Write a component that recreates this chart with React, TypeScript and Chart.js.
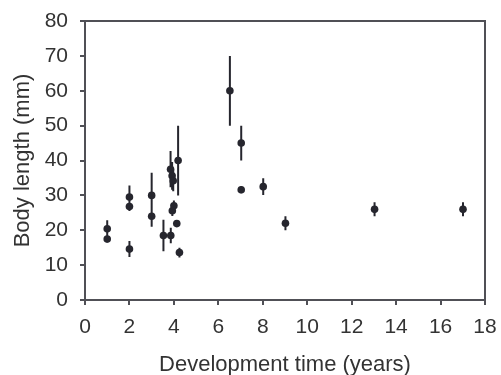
import React, { useEffect, useRef } from "react";
import { Chart, registerables } from "chart.js";

Chart.register(...registerables);

const devTime = [1, 1, 2, 2, 2, 3, 3, 3.53, 3.86, 3.85, 3.92, 3.97, 4.19, 3.93, 4.0, 4.13, 4.25, 6.52, 7.03, 7.03, 8.02, 9.02, 13.03, 17.01];
const bodyLength = [20.4, 17.5, 29.5, 26.8, 14.6, 30, 24, 18.5, 18.5, 37.5, 35.6, 34.2, 40, 25.6, 27, 21.9, 13.6, 60, 45, 31.6, 32.5, 22, 26, 26];
const errorSize = [2.5, 1, 3.3, 1.3, 2.3, 6.5, 3, 4.5, 2.2, 5.2, 4, 3, 10, 1.5, 1.5, 1, 1.4, 10, 5, 1, 2.4, 2, 2, 2];

const xTicks = [0, 2, 4, 6, 8, 10, 12, 14, 16, 18];
const yTicks = [0, 10, 20, 30, 40, 50, 60, 70, 80];

const axisColor = "#505056";
const markColor = "#26262e";
const textColor = "#333333";
const fontFamily = "'Liberation Sans', Arial, sans-serif";

const errorBarPlugin = {
  id: "errorBars",
  beforeDatasetsDraw(chart: any) {
    const { ctx, scales } = chart;
    ctx.save();
    ctx.strokeStyle = markColor;
    ctx.lineWidth = 2;
    ctx.beginPath();
    devTime.forEach((x, i) => {
      const px = scales.x.getPixelForValue(x);
      const y1 = scales.y.getPixelForValue(bodyLength[i] - errorSize[i]);
      const y2 = scales.y.getPixelForValue(bodyLength[i] + errorSize[i]);
      ctx.moveTo(px, y1);
      ctx.lineTo(px, y2);
    });
    ctx.stroke();
    ctx.restore();
  },
};

const boxPlugin = {
  id: "boxFrame",
  afterDraw(chart: any) {
    const { ctx, chartArea } = chart;
    ctx.save();
    ctx.strokeStyle = axisColor;
    ctx.lineWidth = 2;
    ctx.beginPath();
    ctx.moveTo(chartArea.left, chartArea.top);
    ctx.lineTo(chartArea.right, chartArea.top);
    ctx.lineTo(chartArea.right, chartArea.bottom);
    ctx.stroke();
    ctx.restore();
  },
};

export default function App() {
  const ref = useRef<HTMLCanvasElement | null>(null);

  useEffect(() => {
    if (!ref.current) return;
    const chart = new Chart(ref.current, {
      type: "scatter",
      data: {
        datasets: [
          {
            data: devTime.map((x, i) => ({ x, y: bodyLength[i] })),
            backgroundColor: markColor,
            borderColor: markColor,
            pointRadius: 3.8,
            pointBorderWidth: 0,
          },
        ],
      },
      plugins: [errorBarPlugin, boxPlugin],
      options: {
        animation: false,
        responsive: false,
        layout: { padding: { top: 21, right: 16, left: 0, bottom: 0 } },
        plugins: { legend: { display: false }, tooltip: { enabled: false } },
        scales: {
          x: {
            type: "linear",
            min: 0,
            max: 18,
            afterBuildTicks: (s: any) => {
              s.ticks = xTicks.map((v) => ({ value: v }));
            },
            afterFit: (s: any) => {
              s.height = 75;
              s.paddingLeft = 0;
              s.paddingRight = 0;
            },
            ticks: {
              color: textColor,
              font: { family: fontFamily, size: 21 },
              padding: 10,
              maxRotation: 0,
            },
            grid: { drawOnChartArea: false, drawTicks: true, tickLength: 5, color: axisColor, lineWidth: 2 },
            border: { display: true, color: axisColor, width: 2 },
            title: {
              display: true,
              text: "Development time (years)",
              color: textColor,
              font: { family: fontFamily, size: 22 },
              padding: { top: 0, bottom: -3 },
            },
          },
          y: {
            type: "linear",
            min: 0,
            max: 80,
            afterBuildTicks: (s: any) => {
              s.ticks = yTicks.map((v) => ({ value: v }));
            },
            afterFit: (s: any) => {
              s.width = 85;
              s.paddingTop = 0;
              s.paddingBottom = 0;
            },
            ticks: {
              color: textColor,
              font: { family: fontFamily, size: 21 },
              padding: 12,
            },
            grid: { drawOnChartArea: false, drawTicks: true, tickLength: 5, color: axisColor, lineWidth: 2 },
            border: { display: true, color: axisColor, width: 2 },
            title: {
              display: true,
              text: "Body length (mm)",
              color: textColor,
              font: { family: fontFamily, size: 22 },
              padding: { top: 10, bottom: 0 },
            },
          },
        },
      },
    });
    return () => chart.destroy();
  }, []);

  return (
    <div style={{ position: "fixed", left: 0, top: 0, width: 501, height: 375, background: "#fff" }}>
      <canvas ref={ref} width={501} height={375} style={{ width: 501, height: 375 }} />
    </div>
  );
}
